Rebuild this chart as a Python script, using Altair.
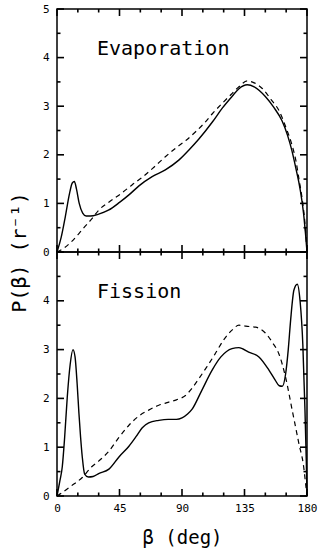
import altair as alt
import pandas as pd

# ---- data ----
evap_solid_deg = [0, 3, 6, 9, 11, 12.5, 14, 16, 18.5, 21, 24, 30, 37, 45, 52, 59, 68.5, 78, 87.7, 95, 102, 112, 119, 126, 131, 137, 142, 150, 156, 162, 166, 169, 172, 175, 177.5, 179, 180]
evap_solid_val = [0, 0.3, 0.73, 1.2, 1.42, 1.45, 1.3, 1.0, 0.8, 0.74, 0.74, 0.78, 0.86, 1.02, 1.18, 1.36, 1.55, 1.69, 1.89, 2.1, 2.32, 2.68, 2.96, 3.2, 3.36, 3.44, 3.4, 3.2, 2.98, 2.7, 2.4, 2.1, 1.72, 1.3, 0.8, 0.35, 0]

evap_dash_deg = [0, 5, 10, 15.8, 20, 25, 30, 38, 46, 54, 62, 70, 78, 86, 93, 100, 106, 112, 119, 126, 131, 137, 142, 148, 154, 160, 165, 169, 172, 174.5, 176.5, 178.5, 180]
evap_dash_val = [0, 0.08, 0.2, 0.38, 0.52, 0.68, 0.86, 1.04, 1.2, 1.38, 1.55, 1.75, 1.96, 2.15, 2.3, 2.48, 2.65, 2.85, 3.06, 3.26, 3.4, 3.52, 3.48, 3.36, 3.14, 2.9, 2.55, 2.22, 1.88, 1.45, 1.1, 0.6, 0]

fis_solid_deg = [0, 2, 3.8, 5.5, 7.4, 9.5, 11.5, 13, 14.5, 15.8, 17, 18.2, 19.9, 22.6, 26, 30, 37.4, 44.6, 51.8, 57, 61.4, 66, 73.3, 80, 86, 90, 94, 97.3, 104, 111.7, 118, 126, 131, 138, 145.4, 152.6, 157, 160, 162.2, 164.6, 166.5, 168.2, 170.6, 173, 175, 177, 178.5, 179.5, 180]
fis_solid_val = [0, 0.3, 0.6, 1.2, 2.03, 2.7, 3.0, 2.85, 2.3, 1.69, 1.2, 0.8, 0.45, 0.39, 0.4, 0.46, 0.55, 0.8, 1.02, 1.22, 1.4, 1.5, 1.55, 1.57, 1.57, 1.6, 1.68, 1.78, 2.15, 2.58, 2.85, 3.02, 3.04, 2.95, 2.85, 2.58, 2.38, 2.26, 2.25, 2.5, 3.0, 3.6, 4.22, 4.34, 4.0, 3.1, 1.8, 0.7, 0]

fis_dash_deg = [0, 3.8, 10, 18.2, 25, 30.2, 37.4, 44.6, 51.8, 59, 66, 73.3, 80, 86, 92.5, 97, 102, 108, 114, 120, 126, 131, 136, 143, 150, 155, 159.8, 164.6, 169.4, 174.2, 177.6, 179, 180]
fis_dash_val = [0, 0.07, 0.2, 0.38, 0.6, 0.72, 0.92, 1.2, 1.45, 1.64, 1.76, 1.86, 1.92, 1.97, 2.06, 2.2, 2.4, 2.65, 2.92, 3.2, 3.4, 3.5, 3.48, 3.46, 3.34, 3.15, 2.91, 2.43, 1.75, 1.07, 0.6, 0.25, 0]

x_major = [0, 45, 90, 135, 180]
x_minor = [15, 30, 60, 75, 105, 120, 150, 165]
y_major = [0, 1, 2, 3, 4, 5]
y_minor = [0.5, 1.5, 2.5, 3.5, 4.5]
top_y_labels = [0, 1, 2, 3, 4, 5]
bottom_y_labels = [0, 1, 2, 3, 4]

W = 250
XMAX, YMAX = 180, 5
FONT = "DejaVu Sans Mono"

xscale = alt.Scale(domain=[0, XMAX], nice=False, zero=False)
yscale = alt.Scale(domain=[0, YMAX], nice=False, zero=False)


def panel(solid_deg, solid_val, dash_deg, dash_val, label, ylabels, H, bottom):
    solid = pd.DataFrame({"deg": solid_deg, "p": solid_val})
    dash = pd.DataFrame({"deg": dash_deg, "p": dash_val})

    if bottom:
        xaxis = alt.Axis(values=x_major, ticks=False, domain=False, grid=False,
                         labelFontSize=11, labelPadding=6, labelFlush=False,
                         labelFont=FONT, labelColor="black",
                         title="β  (deg)", titleFontSize=19, titleFontWeight="normal",
                         titleFont=FONT, titleColor="black", titleY=47,
                         titleBaseline="alphabetic")
        yaxis = alt.Axis(values=ylabels, ticks=False, domain=False, grid=False,
                         labelFontSize=11, labelPadding=8, labelFont=FONT,
                         labelColor="black", title=None)
    else:
        xaxis = None
        yaxis = alt.Axis(values=ylabels, ticks=False, domain=False, grid=False,
                         labelFontSize=11, labelPadding=8, labelFont=FONT,
                         labelColor="black",
                         title="P(β)  (r⁻¹)", titleFontSize=20, titleFontWeight="normal",
                         titleFont=FONT, titleColor="black",
                         titleX=-38, titleY=H, titleAngle=270,
                         titleAlign="center", titleBaseline="middle")

    X = alt.X("deg:Q", scale=xscale, axis=xaxis)
    Y = alt.Y("p:Q", scale=yscale, axis=yaxis)

    solid_line = alt.Chart(solid).mark_line(color="black", strokeWidth=1.4,
                                            interpolate="monotone").encode(x=X, y=Y)
    dash_line = alt.Chart(dash).mark_line(color="black", strokeWidth=1.2,
                                          strokeDash=[5, 4],
                                          interpolate="monotone").encode(x=X, y=Y)

    # tick marks: rules whose length is converted to data units of each scale
    def xticks(vals, px):
        dy = px / H * YMAX
        bot_df = pd.DataFrame({"deg": vals, "p": [0.0] * len(vals), "p2": [dy] * len(vals)})
        top_df = pd.DataFrame({"deg": vals, "p": [float(YMAX)] * len(vals), "p2": [YMAX - dy] * len(vals)})
        out = []
        for d in (bot_df, top_df):
            out.append(alt.Chart(d).mark_rule(color="black", strokeWidth=1.6).encode(
                x=X, y=Y, y2=alt.Y2("p2:Q")))
        return out

    def yticks(vals, px):
        dx = px / W * XMAX
        l_df = pd.DataFrame({"p": vals, "deg": [0.0] * len(vals), "deg2": [dx] * len(vals)})
        r_df = pd.DataFrame({"p": vals, "deg": [float(XMAX)] * len(vals), "deg2": [XMAX - dx] * len(vals)})
        out = []
        for d in (l_df, r_df):
            out.append(alt.Chart(d).mark_rule(color="black", strokeWidth=1.6).encode(
                y=Y, x=X, x2=alt.X2("deg2:Q")))
        return out

    text = alt.Chart(pd.DataFrame({"label": [label]})).mark_text(
        align="left", baseline="alphabetic", fontSize=20, font=FONT,
        color="black").encode(x=alt.value(40), y=alt.value(46), text="label:N")

    layers = [solid_line, dash_line] + xticks(x_major, 7) + xticks(x_minor, 3.5) \
        + yticks(y_major, 7) + yticks(y_minor, 3.5) + [text]
    return alt.layer(*layers).properties(width=W, height=H)


top = panel(evap_solid_deg, evap_solid_val, evap_dash_deg, evap_dash_val,
            "Evaporation", top_y_labels, 243, False)
bot = panel(fis_solid_deg, fis_solid_val, fis_dash_deg, fis_dash_val,
            "Fission", bottom_y_labels, 244, True)

chart = alt.vconcat(top, bot, spacing=0, bounds="flush").properties(
    padding={"left": 8, "top": 2, "right": 0, "bottom": 0},
    background="white",
).configure_view(stroke="black", strokeWidth=1.5).configure_concat(spacing=0)

chart.save("out.html", embed_options={"renderer": "svg", "actions": False})
